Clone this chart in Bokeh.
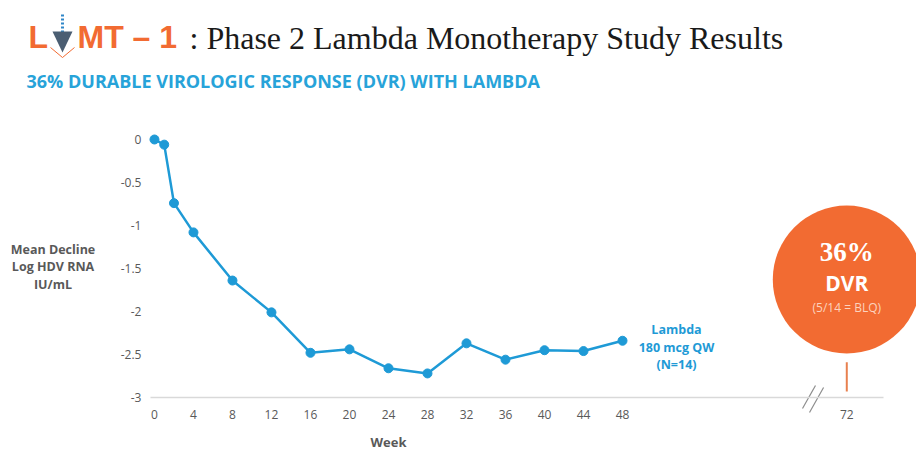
from bokeh.plotting import figure
from bokeh.models import (Range1d, FixedTicker, CustomJSTickFormatter, Label, Arrow,
                          PolyAnnotation)
from bokeh.embed import file_html
from bokeh.resources import INLINE

# ---------------- data ----------------
weeks = [0, 1, 2, 4, 8, 12, 16, 20, 24, 28, 32, 36, 40, 44, 48]
mean_decline = [0.0, -0.06, -0.74, -1.08, -1.64, -2.01, -2.48, -2.44,
                -2.66, -2.72, -2.37, -2.56, -2.45, -2.46, -2.34]
x_tick_weeks = [0, 4, 8, 12, 16, 20, 24, 28, 32, 36, 40, 44, 48, 72]
x_tick_labels = ["0", "4", "8", "12", "16", "20", "24", "28", "32", "36", "40", "44", "48", "72"]
y_ticks = [0, -0.5, -1, -1.5, -2, -2.5, -3]
dvr_week = 72
dvr_pct = "36%"
dvr_name = "DVR"
dvr_detail = "(5/14 = BLQ)"
series_label = ["Lambda", "180 mcg QW", "(N=14)"]
y_title = ["Mean Decline", "Log HDV RNA", "IU/mL"]
x_title = "Week"
title_text = ": Phase 2 Lambda Monotherapy Study Results"
subtitle_text = "36% DURABLE VIROLOGIC RESPONSE (DVR) WITH LAMBDA"

# ---------------- styles ----------------
ORANGE = "#F26B32"
BLUE = "#1E9AD6"
SUB_BLUE = "#27A3D9"
GRAY = "#595959"
SANS = "Open Sans"
SERIF = "Liberation Serif"

W, H = 916, 450

# broken axis: weeks after 48 are drawn slightly compressed
BREAK_AT = 48
BREAK_SCALE = 23 / 24


def axis_pos(w):
    return w if w <= BREAK_AT else BREAK_AT + (w - BREAK_AT) * BREAK_SCALE


x_tick_pos = [axis_pos(w) for w in x_tick_weeks]

# axis geometry (data units)
X_START, X_END = -15.79, 78.15
Y_START, Y_END = -3.616, 1.616
Y_AXIS_AT = -0.41
X_AXIS_END = 74.77


def sx(px):
    return px


def sy(py, size):
    # baseline correction for the rendered text box
    return H - (py - (0.25 * size + 3))


p = figure(width=W, height=H, output_backend="svg", toolbar_location=None,
           title=None,
           x_range=Range1d(X_START, X_END), y_range=Range1d(Y_START, Y_END),
           min_border_left=0, min_border_right=0, min_border_top=0,
           min_border_bottom=0)
p.grid.visible = False
p.outline_line_color = None

# axes (fixed inside the canvas)
xa = p.xaxis[0]
xa.fixed_location = -3
xa.bounds = (Y_AXIS_AT, X_AXIS_END)
xa.ticker = FixedTicker(ticks=x_tick_pos)
xa.formatter = CustomJSTickFormatter(args=dict(pos=x_tick_pos, lab=x_tick_labels), code="""
const i = pos.findIndex(v => Math.abs(v - tick) < 1e-6);
return i >= 0 ? lab[i] : String(tick);
""")
xa.axis_line_color = "#D9D9D9"
xa.axis_line_width = 1.5
xa.major_tick_line_color = None
xa.minor_tick_line_color = None
xa.major_tick_out = 0
xa.major_tick_in = 0
xa.major_label_standoff = 12
xa.major_label_text_font = SANS
xa.major_label_text_font_size = "12px"
xa.major_label_text_color = GRAY

ya = p.yaxis[0]
ya.fixed_location = Y_AXIS_AT
ya.bounds = (-3, 0)
ya.ticker = FixedTicker(ticks=y_ticks)
ya.formatter = CustomJSTickFormatter(code="return String(tick);")
ya.axis_line_color = None
ya.major_tick_line_color = None
ya.minor_tick_line_color = None
ya.major_tick_out = 0
ya.major_tick_in = 0
ya.major_label_standoff = 9
ya.major_label_text_font = SANS
ya.major_label_text_font_size = "12px"
ya.major_label_text_color = GRAY

# series
p.line(weeks, mean_decline, line_width=2.5, color=BLUE)
p.scatter(weeks, mean_decline, size=9, color=BLUE)

# DVR marker at week 72
x72 = axis_pos(dvr_week)
p.segment(x0=[x72], y0=[-2.59], x1=[x72], y1=[-2.93], line_color="#E8804F", line_width=2)
p.scatter([x72], [-1.628], size=148, color=ORANGE, line_color=None)

# axis break slashes
p.segment(x0=[66.46, 67.18], y0=[-3.128, -3.174], x1=[67.79, 68.62], y1=[-2.860, -2.884],
          line_color="#8C8C8C", line_width=1.2)


def add_label(text, px, py, size, color, font=SANS, style="normal", align="left", x_units="screen"):
    p.add_layout(Label(x=sx(px) if x_units == "screen" else px, y=sy(py, size),
                       x_units=x_units, y_units="screen",
                       text=text, text_font=font, text_font_size=f"{size}px", text_color=color,
                       text_font_style=style, text_align=align, text_baseline="alphabetic"))


# circle texts
add_label(dvr_pct, x72, 261, 27, "white", font=SERIF, style="bold", align="center", x_units="data")
add_label(dvr_name, x72, 291, 21, "white", style="bold", align="center", x_units="data")
add_label(dvr_detail, x72, 313, 12, "#FCD3BE", align="center", x_units="data")

# series label
for t, py in zip(series_label, [335, 353, 370]):
    add_label(t, 676, py, 12.5, BLUE, style="bold", align="center")

# y title
for t, py in zip(y_title, [255, 272.5, 290]):
    add_label(t, 52.5, py, 12.5, GRAY, style="bold", align="center")

# x title
add_label(x_title, 388, 448, 13, GRAY, style="bold", align="center")

# heading
add_label("L", 28, 47.5, 32, ORANGE, font="Liberation Sans", style="bold")
add_label("MT \u2013 1", 77, 47.5, 32, ORANGE, font="Liberation Sans", style="bold")
add_label(title_text, 189, 48, 32, "#1A1A1A", font=SERIF)
add_label(subtitle_text, 26, 88, 18, SUB_BLUE, style="bold")

# logo arrow
def ly(py):
    return H - py


p.add_layout(Arrow(x_start=sx(62), y_start=ly(14), x_end=sx(62), y_end=ly(32),
                   start_units="screen", end_units="screen", end=None,
                   line_color="#2F86C8", line_width=3, line_dash="2 2"))
p.add_layout(PolyAnnotation(xs=[sx(52), sx(72), sx(62)], ys=[ly(31), ly(31), ly(52)],
                            xs_units="screen", ys_units="screen",
                            fill_color="#4B5E72", fill_alpha=1, line_color=None))
p.add_layout(Arrow(x_start=sx(50), y_start=ly(47), x_end=sx(62), y_end=ly(57),
                   start_units="screen", end_units="screen", end=None,
                   line_color=ORANGE, line_width=1))
p.add_layout(Arrow(x_start=sx(62), y_start=ly(57), x_end=sx(74), y_end=ly(47),
                   start_units="screen", end_units="screen", end=None,
                   line_color=ORANGE, line_width=1))

open("out.html", "w").write(file_html(p, INLINE))
